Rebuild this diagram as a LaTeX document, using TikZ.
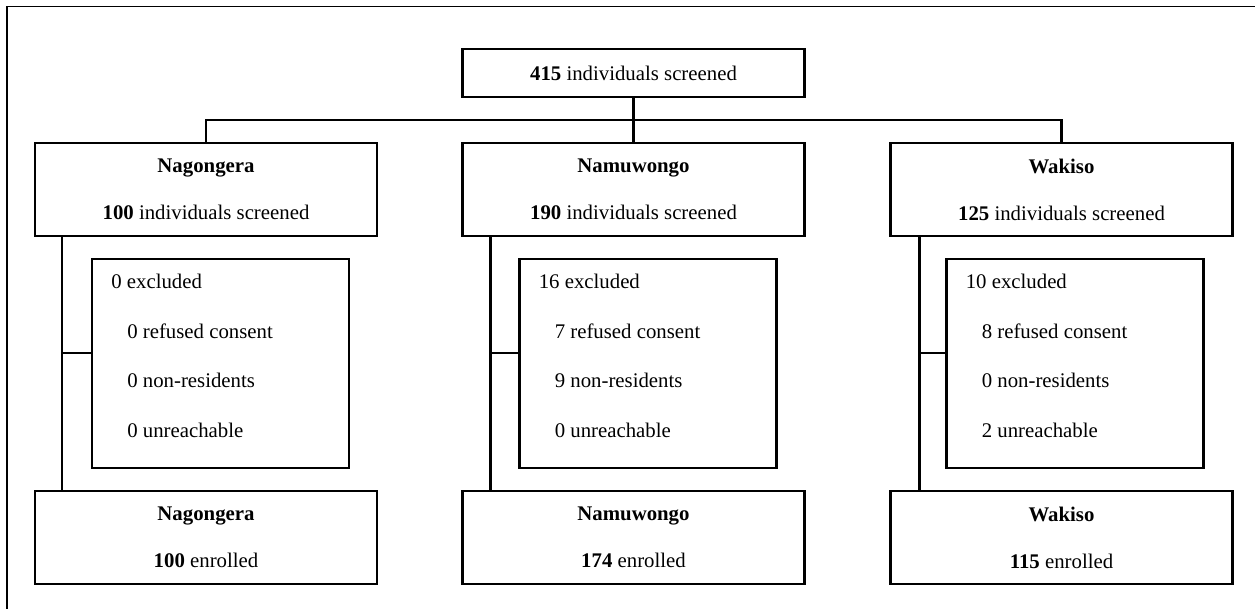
\documentclass[tikz,border=0pt]{standalone}
\usepackage{fontspec}
\setmainfont{Liberation Serif}
\usepackage{xcolor}
\usepackage{amsmath}
\usepackage{amssymb}
\usepackage{tikz}
\usetikzlibrary{arrows}
\usetikzlibrary{positioning}

\begin{document}
\begin{tikzpicture}[x=0.5pt,y=-0.5pt,
  box/.style={draw,line width=1.1pt,rectangle,minimum width=171pt,minimum height=46.5pt,
    align=center,inner sep=0pt,font=\fontsize{10.4}{23.5}\selectfont},
  exbox/.style={draw,line width=1.1pt,rectangle,minimum width=128.5pt,minimum height=104.5pt},
  extext/.style={anchor=north west,inner sep=0pt,align=left,font=\fontsize{10.4}{24.8}\selectfont},
  link/.style={line width=1.1pt}]
\useasboundingbox (0,0) rectangle (1255,609);
\draw[line width=0.6pt] (7,609) -- (7,6.5) -- (1255,6.5);
% screening
\node[box,minimum height=24pt] (A) at (633.5,73) {\textbf{415} individuals screened};
\node[box] (B1) at (206,189.5) {\textbf{Nagongera}\\\textbf{100} individuals screened};
\node[box] (B2) at (633.5,189.5) {\textbf{Namuwongo}\\\textbf{190} individuals screened};
\node[box] (B3) at (1061.5,189.5) {\textbf{Wakiso}\\\textbf{125} individuals screened};
\coordinate (bus) at (633.5,120);
\path[link] (A) edge (B2);
\draw[link] (B1.north) -- (B1.north |- bus) -- (B3.north |- bus) -- (B3.north);
% exclusions
\node[exbox] (C1) at (220.5,363.5) {};
\node[exbox] (C2) at (648,363.5) {};
\node[exbox] (C3) at (1075,363.5) {};
\node[extext] (C1t) at ([xshift=10pt,yshift=-8pt]C1.north west)
  {0 excluded\\\hspace*{8pt}0 refused consent\\\hspace*{8pt}0 non-residents\\\hspace*{8pt}0 unreachable};
\node[extext] (C2t) at ([xshift=10pt,yshift=-8pt]C2.north west)
  {16 excluded\\\hspace*{8pt}7 refused consent\\\hspace*{8pt}9 non-residents\\\hspace*{8pt}0 unreachable};
\node[extext] (C3t) at ([xshift=10pt,yshift=-8pt]C3.north west)
  {10 excluded\\\hspace*{8pt}8 refused consent\\\hspace*{8pt}0 non-residents\\\hspace*{8pt}2 unreachable};
% enrolment
\node[box] (D1) at (206,537.5) {\textbf{Nagongera}\\\textbf{100} enrolled};
\node[box] (D2) at (633.5,537.5) {\textbf{Namuwongo}\\\textbf{174} enrolled};
\node[box] (D3) at (1061.5,537.5) {\textbf{Wakiso}\\\textbf{115} enrolled};
\coordinate (E1) at ([xshift=14pt]B1.south west);
\coordinate (E2) at ([xshift=14.5pt]B2.south west);
\coordinate (E3) at ([xshift=15pt]B3.south west);
\draw[link] (E1) -- (E1 |- D1.north);
\draw[link] (E2) -- (E2 |- D2.north);
\draw[link] (E3) -- (E3 |- D3.north);
\draw[link] ([yshift=5.25pt]C1.west) -- ([yshift=5.25pt]C1.west -| E1);
\draw[link] ([yshift=5.25pt]C2.west) -- ([yshift=5.25pt]C2.west -| E2);
\draw[link] ([yshift=5.25pt]C3.west) -- ([yshift=5.25pt]C3.west -| E3);
\end{tikzpicture}
\end{document}
